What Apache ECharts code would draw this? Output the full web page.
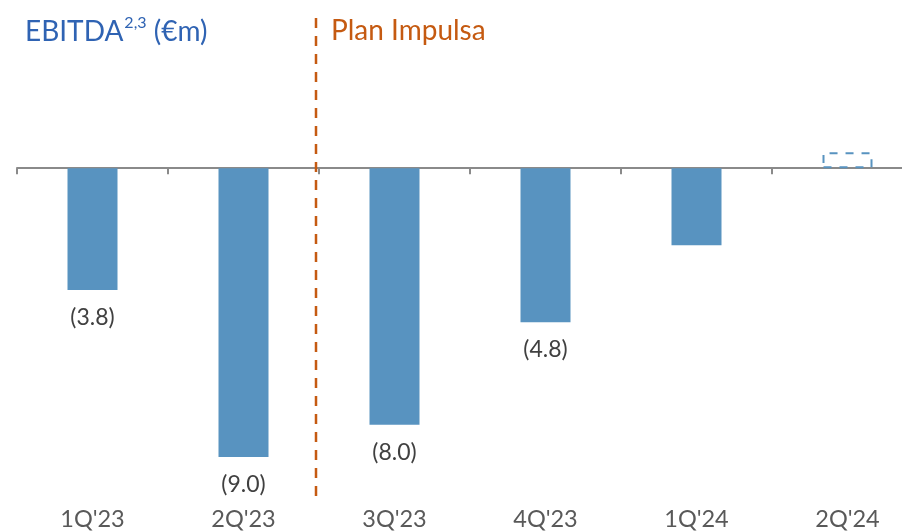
<!DOCTYPE html>
<html>
<head>
<meta charset="utf-8">
<script src="https://cdn.jsdelivr.net/npm/echarts@6/dist/echarts.min.js"></script>
<style>
  html, body { margin: 0; padding: 0; background: #fff; overflow: hidden; width: 902px; height: 531px; }
  /* the last category band runs a little past the right edge of the page */
  #chart { width: 923px; height: 531px; }
</style>
</head>
<body>
<div id="chart"></div>
<script>
// Quarterly EBITDA, € millions (2Q'24 is a provisional estimate drawn as an outline)
const quarters = ["1Q'23", "2Q'23", "3Q'23", "4Q'23", "1Q'24", "2Q'24"];
const ebitda = [-3.8, -9.0, -8.0, -4.8, -2.4, 0.5];
const labelled = [true, true, true, true, false, false];
const estimated = [false, false, false, false, false, true];

const BAR = '#5893c0';
const FONT = 'Lato, "Open Sans", sans-serif';

const chart = echarts.init(document.getElementById('chart'), null, { renderer: 'canvas' });

const barData = ebitda.map((v, i) => {
  const item = {
    value: v,
    label: { show: labelled[i] }
  };
  if (estimated[i]) {
    item.itemStyle = {
      color: 'rgba(0,0,0,0)',
      borderColor: BAR,
      borderWidth: 2,
      borderType: [8, 8]
    };
  }
  return item;
});

chart.setOption({
  animation: false,
  textStyle: { fontFamily: FONT },
  title: {
    text: '{m|EBITDA}{s|2,3}{m| (€m)}',
    left: 20,
    top: 10,
    textStyle: {
      fontWeight: 'normal',
      rich: {
        m: { fontFamily: FONT, fontSize: 28, fontWeight: 'normal', color: '#2f63b3', lineHeight: 34 },
        s: { fontFamily: FONT, fontSize: 16, fontWeight: 'normal', color: '#2f63b3', lineHeight: 34, verticalAlign: 'top', padding: [0, 0, 0, 1] }
      }
    }
  },
  grid: { left: 17, right: 0, top: 104, bottom: 42, containLabel: false },
  xAxis: [
    {
      type: 'category',
      data: quarters,
      axisLine: { onZero: true, lineStyle: { color: '#8a8a8a', width: 2 } },
      axisTick: { show: true, length: 6, lineStyle: { color: '#8a8a8a', width: 2 } },
      axisLabel: { show: false },
      splitLine: { show: false }
    },
    {
      type: 'category',
      data: quarters,
      position: 'bottom',
      axisLine: { show: false, onZero: false },
      axisTick: { show: false },
      axisLabel: { show: true, margin: 18, fontSize: 23.5, color: '#595959', fontFamily: FONT },
      splitLine: { show: false }
    }
  ],
  yAxis: {
    type: 'value',
    min: -10,
    max: 2,
    show: false,
    splitLine: { show: false }
  },
  series: [{
    type: 'bar',
    xAxisIndex: 0,
    data: barData,
    barWidth: 50,
    itemStyle: { color: BAR },
    label: {
      position: 'bottom',
      distance: 16,
      fontSize: 23,
      color: '#404040',
      fontFamily: FONT,
      formatter: p => '(' + Math.abs(p.value).toFixed(1) + ')'
    }
  }]
});

// Divider between 2Q'23 and 3Q'23 marking the start of Plan Impulsa
function drawDivider() {
  const a = chart.convertToPixel({ xAxisIndex: 0 }, 1);
  const b = chart.convertToPixel({ xAxisIndex: 0 }, 2);
  const x = Math.round((a + b) / 2) - 3;
  chart.setOption({
    graphic: [
      {
        type: 'line',
        shape: { x1: x, y1: 18, x2: x, y2: 497 },
        style: { stroke: '#c55a11', lineWidth: 2.5, lineDash: [10, 8] },
        z: 10
      },
      {
        type: 'text',
        left: x + 15,
        top: 17,
        style: { text: 'Plan Impulsa', fontSize: 28, fontFamily: FONT, fill: '#c55a11' },
        z: 10
      }
    ]
  });
}
drawDivider();
</script>
</body>
</html>
